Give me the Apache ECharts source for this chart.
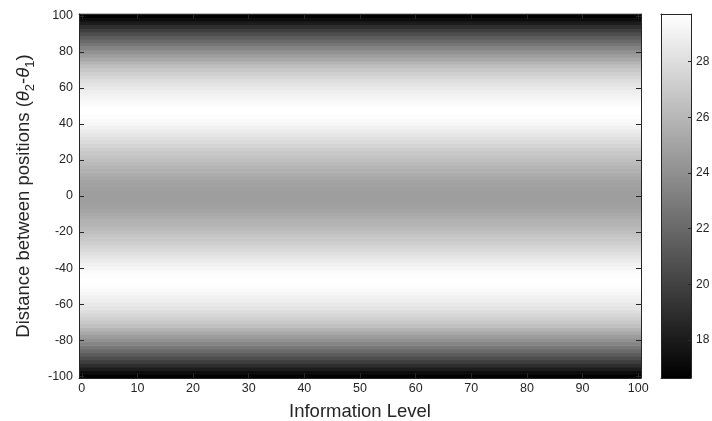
<!DOCTYPE html>
<html>
<head>
<meta charset="utf-8">
<script src="https://cdn.jsdelivr.net/npm/echarts@6/dist/echarts.min.js"></script>
<style>
  html, body { margin: 0; padding: 0; background: #ffffff; }
  #chart { width: 712px; height: 421px; }
</style>
</head>
<body>
<div id="chart"></div>
<script>
// Distance between positions (rows of the map), step 2
const distances = [
  -100, -98, -96, -94, -92, -90, -88, -86, -84, -82,
  -80, -78, -76, -74, -72, -70, -68, -66, -64, -62,
  -60, -58, -56, -54, -52, -50, -48, -46, -44, -42,
  -40, -38, -36, -34, -32, -30, -28, -26, -24, -22,
  -20, -18, -16, -14, -12, -10, -8, -6, -4, -2,
  0,
  2, 4, 6, 8, 10, 12, 14, 16, 18, 20,
  22, 24, 26, 28, 30, 32, 34, 36, 38, 40,
  42, 44, 46, 48, 50, 52, 54, 56, 58, 60,
  62, 64, 66, 68, 70, 72, 74, 76, 78, 80,
  82, 84, 86, 88, 90, 92, 94, 96, 98, 100
];

// Value for each row (same at every information level)
const rowValues = [
  16.64, 17.30, 18.10, 19.00, 19.80, 20.60, 21.40, 22.05, 22.74, 23.41,
  24.07, 24.64, 25.25, 25.87, 26.48, 26.89, 27.30, 27.66, 28.02, 28.33,
  28.58, 28.84, 29.04, 29.25, 29.45, 29.61, 29.71, 29.71, 29.61, 29.45,
  29.25, 28.99, 28.74, 28.43, 28.12, 27.81, 27.51, 27.20, 26.94, 26.69,
  26.43, 26.17, 25.92, 25.71, 25.46, 25.25, 25.05, 24.89, 24.79, 24.74,
  24.74,
  24.74, 24.79, 24.89, 25.05, 25.25, 25.46, 25.71, 25.92, 26.17, 26.43,
  26.69, 26.94, 27.20, 27.51, 27.81, 28.12, 28.43, 28.74, 28.99, 29.25,
  29.45, 29.61, 29.71, 29.71, 29.61, 29.45, 29.25, 29.04, 28.84, 28.58,
  28.33, 28.02, 27.66, 27.30, 26.89, 26.48, 25.87, 25.25, 24.64, 24.07,
  23.41, 22.74, 22.05, 21.40, 20.60, 19.80, 19.00, 18.10, 17.30, 16.64
];

const levelExtent = [0, 100];           // information level range of the map
const xTicks = [0, 10, 20, 30, 40, 50, 60, 70, 80, 90, 100];
const yTicks = [-100, -80, -60, -40, -20, 0, 20, 40, 60, 80, 100];
const colorTicks = [18, 20, 22, 24, 26, 28];
const colorRange = [16.64, 29.71];

const ink = '#262626';
const font = '"Liberation Sans", Arial, Helvetica, sans-serif';
const titleSize = 18.5;

// [level start, level end, distance, value]
const rowData = distances.map((d, i) => [levelExtent[0], levelExtent[1], d, rowValues[i]]);

const chart = echarts.init(document.getElementById('chart'), null, { renderer: 'canvas' });

function boxAxis(base) {
  return Object.assign({
    type: 'value',
    z: 10,
    axisLine: { show: true, onZero: false, lineStyle: { color: ink, width: 1 } },
    splitLine: { show: false },
    axisTick: { show: false },
    axisLabel: { show: false }
  }, base);
}

const option = {
  animation: false,
  backgroundColor: '#ffffff',
  grid: [
    { left: 79, top: 14, width: 562, height: 364, containLabel: false, outerBoundsMode: 'none' },
    { left: 661, top: 14, width: 30, height: 364, containLabel: false, outerBoundsMode: 'none' }
  ],
  xAxis: [
    boxAxis({
      gridIndex: 0, position: 'bottom', min: levelExtent[0] - 0.5, max: levelExtent[1] + 0.5,
      axisTick: { show: true, inside: true, length: 5, customValues: xTicks, lineStyle: { color: ink } },
      axisLabel: { show: true, customValues: xTicks, color: ink, fontSize: 12.5, fontFamily: font, margin: 4 },
      name: 'Information Level', nameLocation: 'middle', nameGap: 24,
      nameTextStyle: { color: ink, fontSize: titleSize, fontFamily: font }
    }),
    boxAxis({
      gridIndex: 0, position: 'top', min: levelExtent[0] - 0.5, max: levelExtent[1] + 0.5,
      axisTick: { show: true, inside: true, length: 5, customValues: xTicks, lineStyle: { color: ink } }
    }),
    boxAxis({ gridIndex: 1, position: 'bottom', min: 0, max: 1 }),
    boxAxis({ gridIndex: 1, position: 'top', min: 0, max: 1 })
  ],
  yAxis: [
    boxAxis({
      gridIndex: 0, position: 'left', min: -101, max: 101,
      axisTick: { show: true, inside: true, length: 5, customValues: yTicks, lineStyle: { color: ink } },
      axisLabel: { show: true, customValues: yTicks, color: ink, fontSize: 12.5, fontFamily: font, margin: 6 },
      name: '{t|Distance between positions (}{th|θ}{sub|2}{t|-}{th|θ}{sub|1}{t|)}',
      nameLocation: 'middle', nameGap: 41,
      nameTextStyle: {
        color: ink, fontSize: titleSize, fontFamily: font,
        rich: {
          t: { fontSize: titleSize, fontFamily: font, color: ink, lineHeight: 27, verticalAlign: 'middle' },
          th: { fontSize: titleSize, fontFamily: font, color: ink, fontStyle: 'italic', lineHeight: 27, verticalAlign: 'middle' },
          sub: { fontSize: 13, fontFamily: font, color: ink, lineHeight: 27, verticalAlign: 'bottom' }
        }
      }
    }),
    boxAxis({
      gridIndex: 0, position: 'right', min: -101, max: 101,
      axisTick: { show: true, inside: true, length: 5, customValues: yTicks, lineStyle: { color: ink } }
    }),
    boxAxis({ gridIndex: 1, position: 'left', min: colorRange[0], max: colorRange[1] }),
    boxAxis({
      gridIndex: 1, position: 'right', min: colorRange[0], max: colorRange[1],
      axisTick: { show: true, inside: true, length: 3, customValues: colorTicks, lineStyle: { color: ink } },
      axisLabel: { show: true, customValues: colorTicks, color: ink, fontSize: 12, fontFamily: font, margin: 5 }
    })
  ],
  visualMap: {
    show: false,
    type: 'continuous',
    seriesIndex: 0,
    dimension: 3,
    min: colorRange[0],
    max: colorRange[1],
    inRange: { color: ['#000000', '#ffffff'] }
  },
  series: [
    {
      // one horizontal band per distance, spanning every information level
      type: 'custom',
      xAxisIndex: 0,
      yAxisIndex: 0,
      encode: { x: [0, 1], y: 2 },
      data: rowData,
      renderItem: function (params, api) {
        const d = api.value(2);
        const topLeft = api.coord([api.value(0) - 0.5, d + 1]);
        const bottomRight = api.coord([api.value(1) + 0.5, d - 1]);
        return {
          type: 'rect',
          shape: {
            x: topLeft[0],
            y: topLeft[1] - 0.3,
            width: bottomRight[0] - topLeft[0],
            height: bottomRight[1] - topLeft[1] + 0.6
          },
          style: { fill: api.visual('color') }
        };
      }
    },
    {
      // colour scale bar
      type: 'custom',
      xAxisIndex: 2,
      yAxisIndex: 3,
      encode: { x: 0, y: 1 },
      data: [[0, colorRange[0]], [1, colorRange[1]]],
      renderItem: function (params, api) {
        if (params.dataIndex !== 0) return null;
        const lo = api.coord([0, colorRange[0]]);
        const hi = api.coord([1, colorRange[1]]);
        return {
          type: 'rect',
          shape: { x: lo[0], y: hi[1], width: hi[0] - lo[0], height: lo[1] - hi[1] },
          style: {
            fill: new echarts.graphic.LinearGradient(0, 1, 0, 0, [
              { offset: 0, color: '#000000' },
              { offset: 1, color: '#ffffff' }
            ])
          }
        };
      }
    }
  ]
};

chart.setOption(option);
</script>
</body>
</html>
